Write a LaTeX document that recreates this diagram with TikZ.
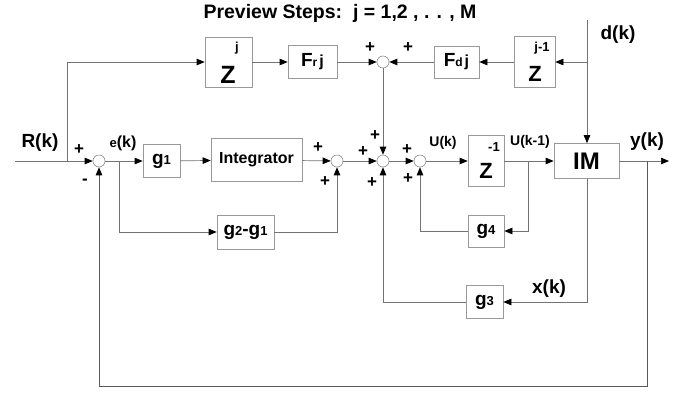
\documentclass[tikz,border=0pt]{standalone}
\usepackage{fontspec}
\setmainfont{Liberation Sans}
\usetikzlibrary{arrows.meta}
\newcommand{\fz}[1]{\fontsize{#1}{#1}\selectfont\bfseries}
\begin{document}
\begin{tikzpicture}[x=1pt,y=-1pt,
  line/.style={draw=black!55, line width=0.7pt},
  arr/.style={line, -{Triangle[length=8pt,width=6.5pt,color=black]}},
  blk/.style={draw=black!40, line width=0.7pt, fill=white, inner sep=0pt},
  sumn/.style={circle, draw=black!45, line width=0.6pt, minimum size=12pt, inner sep=0pt},
  txt/.style={inner sep=0pt, font=\fz{19}},
  sgn/.style={inner sep=0pt, font=\fz{17}}]
\useasboundingbox (0,0) rectangle (686,392);
% title
\node[txt, font=\fz{19.5}] (title) at (340,13) {Preview Steps:\ \ j = 1,2 , . . , M};
% blocks
\node[blk, minimum width=47pt, minimum height=50pt] (zj) at (228.5,62) {};
\node[blk, minimum width=49pt, minimum height=33pt] (frj) at (312.5,62) {};
\node[blk, minimum width=45pt, minimum height=32pt] (fdj) at (456.5,62) {};
\node[blk, minimum width=41pt, minimum height=51pt] (zj1) at (534.5,62) {};
\node[blk, minimum width=37pt, minimum height=33pt] (g1) at (161.5,161) {};
\node[blk, minimum width=91pt, minimum height=43pt, font=\fz{16}] (int) at (256.5,160) {Integrator};
\node[blk, minimum width=57pt, minimum height=34pt] (g21) at (245.5,232) {};
\node[blk, minimum width=36pt, minimum height=51pt] (zinv) at (486,161) {};
\node[blk, minimum width=36pt, minimum height=32pt] (g4) at (486,231) {};
\node[blk, minimum width=65pt, minimum height=35pt, font=\fz{24}] (im) at (586.5,161) {IM};
\node[blk, minimum width=37pt, minimum height=33pt] (g3) at (484.5,302) {};
% summing junctions
\node[sumn] (st) at (383,62) {};
\node[sumn] (s1) at (99,161) {};
\node[sumn] (s2) at (337,161) {};
\node[sumn] (s3) at (383,161) {};
\node[sumn] (s4) at (420,161) {};
% block texts
\node[txt, font=\fz{25}] (zjZ) at (228,75) {Z};
\node[txt, font=\fz{13}] (zjj) at (237,48) {j};
\node[txt] (frjt) at (312.5,62) {F{\fz{12}r\,}{\fz{16}j}};
\node[txt] (fdjt) at (456.5,62) {F{\fz{12}d\,}{\fz{16}j}};
\node[txt, font=\fz{22}] (zj1Z) at (535,74) {Z};
\node[txt, font=\fz{13}] (zj1j) at (542,48) {j-1};
\node[txt, font=\fz{22}] (zinvZ) at (486,171) {Z};
\node[txt, font=\fz{13}] (zinvm) at (494,147) {-1};
\node[txt] (g1t) at (161.5,161) {g{\fz{13}1}};
\node[txt] (g21t) at (245.5,232) {g{\fz{13}2}-g{\fz{13}1}};
\node[txt] (g4t) at (486,231) {g{\fz{13}4}};
\node[txt] (g3t) at (484.5,302) {g{\fz{13}3}};
% signal labels
\node[txt] (rk) at (40,143) {R(k)};
\node[txt, font=\fz{16}] (ek) at (123,143) {{\fz{13}e}(k)};
\node[txt, font=\fz{14}] (uk) at (443,143) {U(k)};
\node[txt, font=\fz{14}] (uk1) at (530,142) {U(k-1)};
\node[txt] (yk) at (647,142) {y(k)};
\node[txt] (dk) at (618,35) {d(k)};
\node[txt] (xk) at (549,289) {x(k)};
% signs
\node[sgn] (p1) at (79,150) {+};
\node[sgn] (m1) at (85,182) {-};
\node[sgn] (p2a) at (318,148) {+};
\node[sgn] (p2b) at (325,182) {+};
\node[sgn] (p3a) at (375,136) {+};
\node[sgn] (p3b) at (363,152) {+};
\node[sgn] (p3c) at (372,183) {+};
\node[sgn] (p4a) at (407,150) {+};
\node[sgn] (p4b) at (408,179) {+};
\node[sgn] (pta) at (370,48) {+};
\node[sgn] (ptb) at (408,48) {+};
% coordinates
\coordinate (rin) at (15,161);
\coordinate (rbr) at (67,161);
\coordinate (dtop) at (587,20);
\coordinate (dbr) at (587,62);
\coordinate (ebr) at (119,161);
\coordinate (ubr) at (528,161);
\coordinate (ybr) at (647,161);
\coordinate (yout) at (669,161);
% connectors
\draw[arr] (rin) -- (s1);
\draw[arr] (rbr) |- (zj);
\draw[arr] (zj) -- (frj);
\draw[arr] (frj) -- (st);
\draw[arr] (dtop) -- (im.north -| dtop);
\draw[arr] (dbr) -- (zj1);
\draw[arr] (zj1) -- (fdj);
\draw[arr] (fdj) -- (st);
\draw[arr] (st) -- (s3);
\draw[arr] (s1) -- (g1);
\draw[arr] (ebr) |- (g21);
\draw[arr] (g1) -- (int);
\draw[arr] (int) -- (s2);
\draw[arr] (g21) -| (s2);
\draw[arr] (s2) -- (s3);
\draw[arr] (s3) -- (s4);
\draw[arr] (s4) -- (zinv);
\draw[arr] (zinv) -- (im);
\draw[arr] (ubr) |- (g4);
\draw[arr] (g4) -| (s4);
\draw[arr] (im) -- (yout);
\draw[arr, draw=black!65] (ybr) -- (647,386) -| (s1);
\draw[arr] (im.south -| dtop) |- (g3);
\draw[arr] (g3) -| (s3);
\end{tikzpicture}
\end{document}
